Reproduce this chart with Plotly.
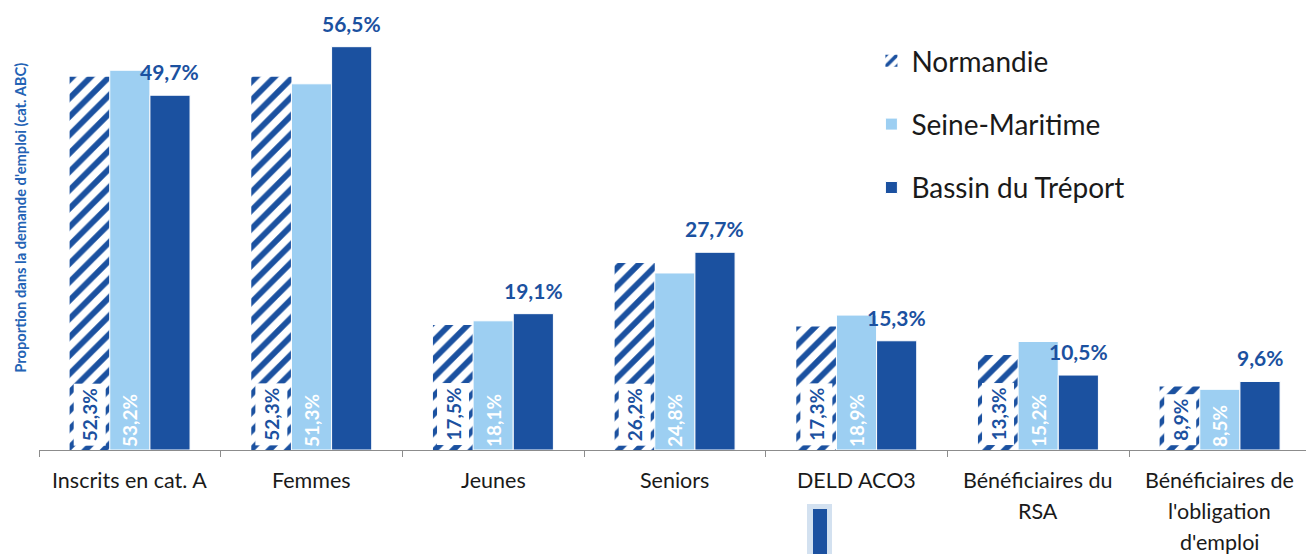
import plotly.graph_objects as go

# Categories (each entry is the list of lines shown under the axis)
category_lines = [
    ["Inscrits en cat. A"],
    ["Femmes"],
    ["Jeunes"],
    ["Seniors"],
    ["DELD ACO3"],
    ["Bénéficiaires du", "RSA"],
    ["Bénéficiaires de", "l'obligation", "d'emploi"],
]
categories = [" ".join(lines) for lines in category_lines]

# Share of job seekers (cat. ABC), in %
normandie = [52.3, 52.3, 17.5, 26.2, 17.3, 13.3, 8.9]
seine_maritime = [53.2, 51.3, 18.1, 24.8, 18.9, 15.2, 8.5]
bassin_treport = [49.7, 56.5, 19.1, 27.7, 15.3, 10.5, 9.6]

series_names = ["Normandie", "Seine-Maritime", "Bassin du Tréport"]

DARK = "#1B51A0"
LIGHT = "#9DCFF2"
FONT = "Lato"

W, H = 1306, 554
ML, MR, MT, MB = 39, 0, 0, 104
BARGAP = 0.337
bar_w = (1 - BARGAP) / 3  # width of one bar in category units
CAT_PX = 181.67           # pixel width of one category slot


def pct(v):
    return f"<b>{v:.1f}%</b>".replace(".", ",")


fig = go.Figure()

fig.add_trace(go.Bar(
    name=series_names[0], x=categories, y=normandie,
    marker=dict(color="white", line=dict(width=0),
                pattern=dict(shape="/", fgcolor=DARK, bgcolor="white",
                             size=13, solidity=0.45, fillmode="replace")),
    legendgroup="g1",
))
fig.add_trace(go.Bar(
    name=series_names[1], x=categories, y=seine_maritime,
    marker=dict(color=LIGHT, line=dict(color="white", width=1)),
    texttemplate="<b>%{y:.1f}%</b>", textposition="inside",
    insidetextanchor="start", textangle=-90,
    textfont=dict(color="white", size=19, family=FONT),
    constraintext="none",
    legendgroup="g2",
))
fig.add_trace(go.Bar(
    name=series_names[2], x=categories, y=bassin_treport,
    marker=dict(color=DARK, line=dict(color="white", width=1)),
    legendgroup="g3",
))

annotations = []
for i, v in enumerate(normandie):
    annotations.append(dict(
        x=i - bar_w, y=0, xref="x", yref="y", yanchor="bottom", yshift=4,
        text=pct(v), showarrow=False,
        textangle=-90, bgcolor="white", borderpad=4,
        font=dict(color=DARK, size=19, family=FONT),
    ))
for i, v in enumerate(bassin_treport):
    annotations.append(dict(
        x=i + bar_w, y=v, xref="x", yref="y", yanchor="bottom", yshift=9,
        text=pct(v), showarrow=False,
        font=dict(color=DARK, size=21, family=FONT),
    ))
for i, lines in enumerate(category_lines):
    for j, line in enumerate(lines):
        annotations.append(dict(
            x=i, y=0, xref="x", yref="paper", yanchor="middle",
            yshift=-30 - 31 * j, text=line, showarrow=False,
            font=dict(color="#1a1a1a", size=21.5, family=FONT),
        ))
annotations.append(dict(
    x=0, y=0.516, xref="paper", yref="paper", xanchor="center",
    yanchor="middle", xshift=-19,
    text="<b>Proportion dans la demande d'emploi (cat. ABC)</b>",
    textangle=-90, showarrow=False,
    font=dict(color="#2463B5", size=14.7, family=FONT),
))

plot_w = W - ML - MR
fig.update_layout(
    width=W, height=H,
    margin=dict(l=ML, r=MR, t=MT, b=MB),
    paper_bgcolor="white", plot_bgcolor="white",
    barmode="group", bargap=BARGAP, bargroupgap=0,
    separators=", ",
    showlegend=True,
    legend=dict(x=0.657, y=0.92, xanchor="left", yanchor="top",
                font=dict(size=28, family=FONT, color="#1a1a1a"),
                traceorder="grouped", tracegroupgap=24,
                bgcolor="rgba(0,0,0,0)"),
    xaxis=dict(showline=True, linecolor="#8c8c8c", linewidth=1,
               range=[-0.5, -0.5 + plot_w / CAT_PX],
               ticks="outside", tickson="boundaries", ticklen=6,
               tickcolor="#8c8c8c", showticklabels=False,
               showgrid=False, zeroline=False, fixedrange=True),
    yaxis=dict(range=[0, 63.04], showticklabels=False, showgrid=False,
               zeroline=False, showline=False, ticks=""),
    annotations=annotations,
    shapes=[
        dict(type="rect", xref="paper", yref="paper",
             x0=(807 - ML) / plot_w, x1=(832 - ML) / plot_w,
             y0=-(554 - 450) / 450, y1=-(504 - 450) / 450,
             fillcolor="#D3E1F0", line=dict(width=0)),
        dict(type="rect", xref="paper", yref="paper",
             x0=(813 - ML) / plot_w, x1=(827 - ML) / plot_w,
             y0=-(554 - 450) / 450, y1=-(509 - 450) / 450,
             fillcolor=DARK, line=dict(width=0)),
    ],
)

fig.write_html("out.html")
